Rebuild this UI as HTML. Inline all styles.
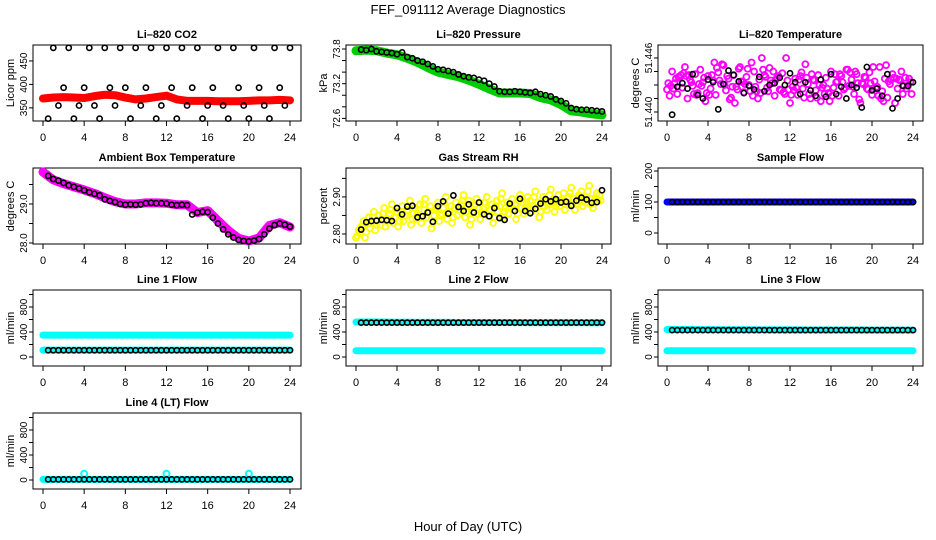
<!DOCTYPE html>
<html><head><meta charset="utf-8"><style>
html,body{margin:0;padding:0;background:#fff;}
svg{display:block;font-family:"Liberation Sans",Arial,sans-serif;}
</style></head><body>
<svg id="chart" width="936" height="540" xmlns="http://www.w3.org/2000/svg">
<rect width="936" height="540" fill="#fff"/>
<text x="468" y="14" font-size="13" text-anchor="middle">FEF_091112  Average Diagnostics</text>
<text x="468" y="531" font-size="13" text-anchor="middle">Hour of Day (UTC)</text>
</svg>
<script>
// ---- data ----
const hourTicks = [0,4,8,12,16,20,24];
const hoursHourly = [0,1,2,3,4,5,6,7,8,9,10,11,12,13,14,15,16,17,18,19,20,21,22,23,24];
const blackHours = [0.5,1,1.5,2,2.5,3,3.5,4,4.5,5,5.5,6,6.5,7,7.5,8,8.5,9,9.5,10,10.5,11,11.5,12,12.5,13,13.5,14,14.5,15,15.5,16,16.5,17,17.5,18,18.5,19,19.5,20,20.5,21,21.5,22,22.5,23,23.5,24];

const co2Band = [370,372,373,372,371,375,378,377,372,368,370,373,376,368,365,365,365,364,364,364,365,366,366,367,366];
const co2Black = [327,478,355,393,478,327,355,393,478,355,327,478,393,355,478,393,327,478,355,393,478,327,355,478,393,327,478,355,393,478,327,355,393,478,355,327,478,393,355,327,478,393,355,327,478,393,355,478];

const presBand = [73.77,73.78,73.77,73.73,73.70,73.64,73.57,73.48,73.40,73.36,73.32,73.26,73.19,73.11,73.04,73.04,73.04,73.03,72.96,72.92,72.84,72.73,72.71,72.68,72.66];
const presBlack = [73.79,73.78,73.80,73.76,73.75,73.74,73.73,73.71,73.74,73.66,73.64,73.60,73.58,73.54,73.50,73.45,73.44,73.42,73.40,73.36,73.33,73.31,73.30,73.27,73.25,73.20,73.15,73.07,73.06,73.06,73.07,73.06,73.05,73.04,73.06,73.02,73.00,72.98,72.93,72.90,72.86,72.78,72.76,72.75,72.75,72.74,72.73,72.72];

const liTempPts = [51.4425,51.4418,51.4445,51.4432,51.4420,51.4438,51.4427,51.4450,51.4415,51.4436,51.4429,51.4442,51.4421,51.4447,51.4433,51.4412,51.4440,51.4426,51.4435,51.4419,51.4444,51.4431,51.4452,51.4424,51.4437,51.4416,51.4441,51.4428,51.4448,51.4434,51.4422,51.4439,51.4430,51.4455,51.4445,51.4423,51.4436,51.4460,51.4441,51.4427,51.4449,51.4432,51.4418,51.4438,51.4425,51.4443,51.4420,51.4435,51.4410,51.4428,51.4437,51.4419,51.4440,51.4426,51.4453,51.4431,51.4415,51.4436,51.4424,51.4441,51.4412,51.4430,51.4438,51.4421,51.4445,51.4427,51.4433,51.4418,51.4440,51.4425,51.4447,51.4429,51.4436,51.4420,51.4442,51.4414,51.4432,51.4439,51.4426,51.4444,51.4419,51.4434,51.4428,51.4450,51.4423,51.4437,51.4416,51.4431,51.4442,51.4410,51.4426,51.4435,51.4420,51.4438,51.4429,51.4433];
const liTempBlack = [51.4397,51.4428,51.4432,51.4426,51.4442,51.4419,51.4415,51.4436,51.4433,51.4403,51.4431,51.4446,51.4441,51.4434,51.4421,51.4429,51.4425,51.4439,51.4423,51.4430,51.4432,51.4438,51.4430,51.4443,51.4433,51.4420,51.4433,51.4424,51.4418,51.4436,51.4417,51.4442,51.4420,51.4428,51.4415,51.4430,51.4427,51.4405,51.4450,51.4424,51.4426,51.4418,51.4442,51.4404,51.4415,51.4429,51.4429,51.4433];

const ambBand = [29.82,29.62,29.52,29.44,29.36,29.27,29.16,29.06,29.0,29.0,29.03,29.03,29.02,28.98,28.98,28.78,28.83,28.57,28.32,28.12,28.05,28.13,28.45,28.52,28.41];
const ambBlack = [29.72,29.64,29.60,29.54,29.48,29.44,29.40,29.35,29.30,29.26,29.22,29.12,29.08,29.05,29.00,28.98,28.99,28.98,28.99,29.02,29.03,29.02,29.02,29.01,28.98,28.97,28.98,28.97,28.73,28.78,28.80,28.79,28.65,28.50,28.35,28.22,28.14,28.08,28.05,28.04,28.06,28.10,28.22,28.37,28.46,28.50,28.47,28.42];

const rhPts = [2.790,2.810,2.820,2.835,2.805,2.845,2.830,2.860,2.825,2.850,2.840,2.870,2.835,2.855,2.880,2.845,2.860,2.835,2.875,2.850,2.865,2.890,2.840,2.870,2.855,2.880,2.845,2.895,2.860,2.875,2.830,2.865,2.885,2.850,2.870,2.900,2.855,2.875,2.845,2.885,2.865,2.880,2.905,2.860,2.890,2.840,2.875,2.895,2.870,2.855,2.885,2.900,2.865,2.880,2.845,2.890,2.875,2.910,2.860,2.885,2.870,2.895,2.880,2.855,2.905,2.885,2.870,2.900,2.890,2.875,2.915,2.885,2.860,2.900,2.890,2.880,2.920,2.895,2.875,2.905,2.890,2.910,2.880,2.900,2.925,2.895,2.880,2.905,2.915,2.890,2.900,2.930,2.895,2.885,2.910,2.905];
const rhBlack = [2.812,2.832,2.835,2.836,2.838,2.837,2.835,2.870,2.853,2.874,2.876,2.845,2.848,2.858,2.833,2.875,2.888,2.855,2.904,2.873,2.862,2.880,2.858,2.885,2.853,2.848,2.870,2.843,2.838,2.882,2.862,2.895,2.862,2.856,2.868,2.882,2.894,2.888,2.894,2.885,2.887,2.876,2.890,2.898,2.893,2.884,2.886,2.918];

const sampleBand = [100,100,100,100,100,100,100,100,100,100,100,100,100,100,100,100,100,100,100,100,100,100,100,100,100];
const sampleBlack = 100;

const line1Upper = [350,350,350,350,350,350,350,350,350,350,350,350,350,350,350,350,350,350,350,350,350,350,350,350,350];
const line1Lower = [110,110,110,110,110,110,110,110,110,110,110,110,110,110,110,110,110,110,110,110,110,110,110,110,110];
const line1Black = 108;
const line2Upper = [560,560,560,558,556,556,555,555,554,554,553,553,552,552,552,551,551,551,550,550,550,550,549,549,549];
const line2Lower = [100,100,100,100,100,100,100,100,100,100,100,100,100,100,100,100,100,100,100,100,100,100,100,100,100];
const line2Black = 550;
const line3Upper = [440,440,440,438,438,437,437,436,436,435,435,434,434,434,433,433,433,432,432,432,431,431,431,430,430];
const line3Lower = [100,100,100,100,100,100,100,100,100,100,100,100,100,100,100,100,100,100,100,100,100,100,100,100,100];
const line3Black = 430;
const line4Band = [10,10,10,10,10,10,10,10,10,10,10,10,10,10,10,10,10,10,10,10,10,10,10,10,10];
const line4Outlier = [100,100,100];
const line4OutlierHours = [4,12,20];
const line4Black = 10;

// ---- layout ----
const NS = "http://www.w3.org/2000/svg";
const svg = document.getElementById('chart');
const cols = [{l:33,r:301,x0:43,x24:290},{l:346,r:611,x0:356,x24:602},{l:658,r:923,x0:667,x24:913}];
const rowTops = [45,168,290,413];
const H = 76;
function mk(tag, attrs, parent){const e=document.createElementNS(NS,tag);for(const k in attrs)e.setAttribute(k,attrs[k]);(parent||svg).appendChild(e);return e;}

function panel(name,c,r,title,ylab,ymin,ymax,ticks,labels){
  const C=cols[c], top=rowTops[r], bot=top+H;
  const g=mk('g',{});
  
  
  const sx=v=>C.x0+(C.x24-C.x0)*v/24;
  const sy=v=>bot-(v-ymin)/(ymax-ymin)*H;
  const t=mk('text',{x:(C.l+C.r)/2,y:top-7,'font-size':11,'font-weight':'bold','text-anchor':'middle'},g);
  t.textContent=title;
  
  
  const box=mk('rect',{x:C.l,y:top,width:C.r-C.l,height:H,fill:'none',stroke:'#000','stroke-width':1},g);
  
  
  // x axis
  const xa=mk('g',{},g);
  
  
  hourTicks.forEach(h=>{
    mk('line',{x1:sx(h),x2:sx(h),y1:bot,y2:bot+5,stroke:'#000'},xa);
    const tl=mk('text',{x:sx(h),y:bot+20,'font-size':11,'text-anchor':'middle'},xa);
    tl.textContent=h;
  });
  // y axis
  const ya=mk('g',{},g);
  
  
  const ax=C.l;
  ticks.forEach((v,i)=>{
    mk('line',{x1:ax-4,x2:ax,y1:sy(v),y2:sy(v),stroke:'#000'},ya);
    if(labels[i]){
      const tl=mk('text',{x:0,y:0,'font-size':10,'text-anchor':'middle',transform:`translate(${ax-6},${sy(v)}) rotate(-90)`},ya);
      tl.textContent=labels[i];
    }
  });
  const yl=mk('text',{x:0,y:0,'font-size':11,'text-anchor':'middle',transform:`translate(${C.l-19},${top+H/2}) rotate(-90)`},g);
  yl.textContent=ylab;
  
  
  const clip=mk('g',{},g);
  return {g:clip,sx,sy};
}
function band(p,xs,vals,color,w,name){
  const pts=xs.map((x,i)=>p.sx(x)+','+p.sy(vals[i])).join(' ');
  const pl=mk('polyline',{points:pts,fill:'none',stroke:color,'stroke-width':w,'stroke-linecap':'round','stroke-linejoin':'round'},p.g);
  
  
}
function pts(p,xs,vals,color,r,sw,name){
  const g=mk('g',{},p.g);
  
  
  xs.forEach((x,i)=>{
    const v=Array.isArray(vals)?vals[i]:vals;
    if(v===undefined)return;
    mk('circle',{cx:p.sx(x),cy:p.sy(v),r:r,fill:'none',stroke:color,'stroke-width':sw},g);
  });
}
const quarterHours = liTempPts.map((_,i)=>i*0.25);
const flowTicks=[0,200,400,600,800,1000], flowLabels=['0','','400','','800',''];

let p;
p=panel('co2',0,0,'Li–820 CO2','Licor ppm',322,484,[350,400,450],['350','400','450']);
band(p,hoursHourly,co2Band,'#ff0000',8,'co2-band');
pts(p,blackHours,co2Black,'#000',2.6,1.6,'co2-points');

p=panel('pressure',1,0,'Li–820 Pressure','kPa',72.555,73.869,[72.6,72.8,73.0,73.2,73.4,73.6,73.8],['72.6','','','73.2','','','73.8']);
band(p,hoursHourly,presBand,'#00cc00',9,'pressure-band');
pts(p,blackHours,presBlack,'#000',2.6,1.6,'pressure-points');

p=panel('li-temp',2,0,'Li–820 Temperature','degrees C',51.4390,51.44744,[51.440,51.4415,51.443,51.4445,51.446],['51.440','','','','51.446']);
pts(p,quarterHours,liTempPts,'#ff00ff',3,1.8,'li-temp-magenta-points');
pts(p,quarterHours.map(h=>h+0.12),liTempPts.map((v,i)=>liTempPts[(i*7+3)%liTempPts.length]),'#ff00ff',3,1.8,'li-temp-magenta-points-2');
pts(p,blackHours,liTempBlack,'#000',2.6,1.6,'li-temp-points');

p=panel('ambient-temp',0,1,'Ambient Box Temperature','degrees C',27.974,29.923,[28,28.5,29,29.5],['28.0','','29.0','']);
band(p,hoursHourly,ambBand,'#ff00ff',9,'ambient-band');
pts(p,blackHours,ambBlack,'#000',2.6,1.6,'ambient-points');

p=panel('rh',1,1,'Gas Stream RH','percent',2.773,2.978,[2.80,2.85,2.90,2.95],['2.80','','2.90','']);
pts(p,quarterHours,rhPts,'#ffff00',3,1.8,'rh-yellow-points');
pts(p,quarterHours.map(h=>h+0.12),rhPts.map((v,i)=>rhPts[Math.min(i+1,rhPts.length-1)]-0.015),'#ffff00',3,1.8,'rh-yellow-points-2');
pts(p,blackHours,rhBlack,'#000',2.6,1.6,'rh-points');

p=panel('sample-flow',2,1,'Sample Flow','ml/min',-35.5,209.7,[0,50,100,150,200],['0','','100','','200']);
band(p,hoursHourly,sampleBand,'#0000ff',7,'sample-band');
pts(p,blackHours,sampleBlack,'#000',2.6,1.6,'sample-points');

p=panel('line1-flow',0,2,'Line 1 Flow','ml/min',-144,1072,flowTicks,flowLabels);
band(p,hoursHourly,line1Upper,'#00ffff',7,'line1-upper-band');
band(p,hoursHourly,line1Lower,'#00ffff',7,'line1-lower-band');
pts(p,blackHours,line1Black,'#000',2.6,1.6,'line1-points');

p=panel('line2-flow',1,2,'Line 2 Flow','ml/min',-144,1072,flowTicks,flowLabels);
band(p,hoursHourly,line2Upper,'#00ffff',7,'line2-upper-band');
band(p,hoursHourly,line2Lower,'#00ffff',7,'line2-lower-band');
pts(p,blackHours,line2Black,'#000',2.6,1.6,'line2-points');

p=panel('line3-flow',2,2,'Line 3 Flow','ml/min',-144,1072,flowTicks,flowLabels);
band(p,hoursHourly,line3Upper,'#00ffff',7,'line3-upper-band');
band(p,hoursHourly,line3Lower,'#00ffff',7,'line3-lower-band');
pts(p,blackHours,line3Black,'#000',2.6,1.6,'line3-points');

p=panel('line4-flow',0,3,'Line 4 (LT) Flow','ml/min',-144,1072,flowTicks,flowLabels);
band(p,hoursHourly,line4Band,'#00ffff',7,'line4-band');
pts(p,line4OutlierHours,line4Outlier,'#00ffff',3,2,'line4-outliers');
pts(p,blackHours,line4Black,'#000',2.6,1.6,'line4-points');
</script>
</body></html>
